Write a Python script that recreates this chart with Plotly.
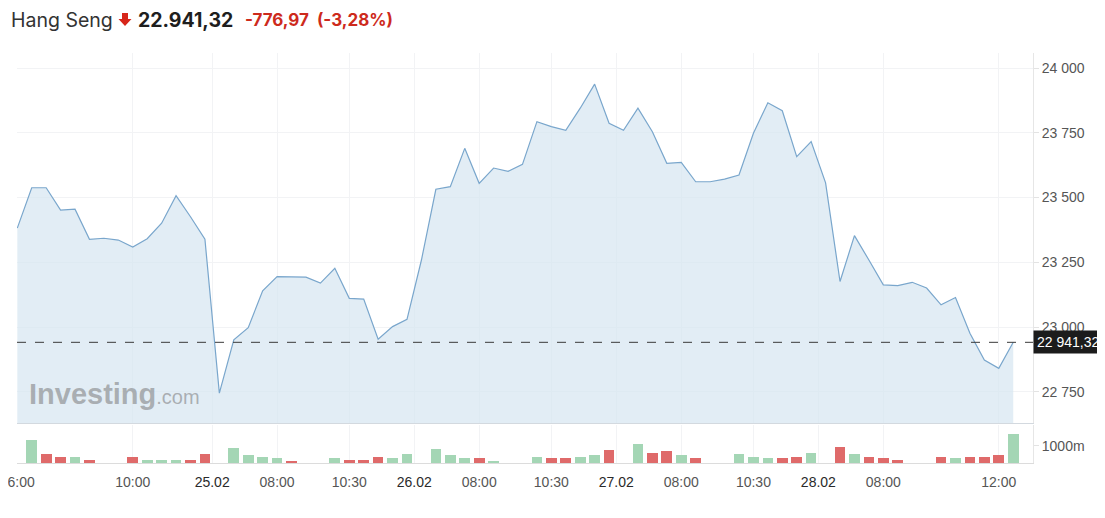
import plotly.graph_objects as go

# ---- data ----
price = [23382, 23538, 23538, 23452, 23455, 23339, 23343, 23336, 23309, 23341,
         23401, 23507, 23426, 23339, 22745, 22951, 22998, 23140, 23195, 23193,
         23193, 23170, 23227, 23111, 23108, 22953, 23002, 23030, 23259, 23532,
         23542, 23690, 23555, 23614, 23601, 23628, 23793, 23774, 23760, 23845,
         23938, 23787, 23760, 23845, 23754, 23632, 23636, 23561, 23561, 23571,
         23587, 23748, 23866, 23835, 23658, 23716, 23557, 23176, 23353, 23259,
         23163, 23160, 23173, 23151, 23086, 23114, 22976, 22873, 22841, 22941.32]

volume = [None, 1382, 535, 370, 370, 206, None, None, 370, 206,
          206, 206, 206, 535, None, 905, 453, 370, 288, 147,
          None, None, 288, 206, 206, 370, 288, 535, None, 823,
          453, 288, 288, 147, None, None, 370, 294, 294, 382,
          465, 782, None, 1100, 617, 700, 465, 294, None, None,
          529, 382, 294, 294, 382, 617, None, 935, 529, 382,
          294, 212, None, None, 382, 294, 382, 382, 465, 1735]

tick_pos = [0, 8, 13.5, 18, 23, 27.5, 32, 37, 41.5, 46, 51, 55.5, 60, 68]
tick_text = ["06:00", "10:00", "25.02", "08:00", "10:30", "26.02", "08:00",
             "10:30", "27.02", "08:00", "10:30", "28.02", "08:00", "12:00"]
date_labels = {"25.02", "26.02", "27.02", "28.02"}

last_price = 22941.32
last_label = "22 941,32"
y_ticks = [22750, 23000, 23250, 23500, 23750, 24000]
vol_ticks = [1000]
vol_tick_text = ["1000m"]

# ---- derived ----
x = list(range(len(price)))
bar_colors = []
for i in range(len(price)):
    up = i > 0 and price[i] > price[i - 1]
    bar_colors.append("#a4d6b5" if up else "#df6a6a")

ticktext_fmt = [
    (f"<span style='color:#2a2a2a'>{t}</span>" if t in date_labels else t)
    for t in tick_text
]

# page offset (body margin) and plot area in page pixels
OFF = 8
W, H = 1105 - OFF, 518 - OFF
PL, PR, PT, PB = 17, 1033, 53, 463          # plot area, page coords
L, R, T, B = PL - OFF, PR - OFF, PT - OFF, PB - OFF


def px(v):
    return (v - PL) / (PR - PL)


def py(v):
    return (PB - v) / (PB - PT)


fig = go.Figure()

fig.add_trace(go.Scatter(
    x=x, y=price, mode="lines",
    line=dict(color="#79a6cc", width=1.2),
    fill="tozeroy", fillcolor="rgba(214,229,241,0.7)",
    xaxis="x", yaxis="y", hoverinfo="skip", showlegend=False))

fig.add_trace(go.Bar(
    x=x, y=volume, marker=dict(color=bar_colors, line=dict(width=0)),
    width=0.74, xaxis="x2", yaxis="y2", hoverinfo="skip", showlegend=False))

font_axis = dict(family="Liberation Sans, Arial, sans-serif", size=14, color="#555")

fig.update_layout(
    width=W, height=H,
    margin=dict(l=L, r=W - R, t=T, b=H - B, pad=0),
    paper_bgcolor="white", plot_bgcolor="white",
    separators=", ",
    template="none",
    bargap=0,
    xaxis=dict(domain=[0, 1], range=[-0.02, 70.37], anchor="y",
               tickvals=tick_pos, showticklabels=False, ticks="",
               showgrid=True, gridcolor="#f2f3f5", gridwidth=1,
               showline=True, linecolor="#d3d9df", linewidth=1,
               zeroline=False, automargin=False),
    yaxis=dict(domain=[0.0976, 1], range=[22630, 24058], side="right",
               anchor="x", tickmode="array", tickvals=y_ticks,
               exponentformat="none", separatethousands=True,
               ticks="outside", ticklen=5,
               tickcolor="#e3e3e3", tickfont=font_axis,
               showgrid=True, gridcolor="#f2f3f5", gridwidth=1,
               showline=True, linecolor="#e6e6e6", linewidth=1,
               zeroline=False, automargin=False),
    xaxis2=dict(domain=[0, 1], range=[-0.02, 70.37], anchor="y2",
                tickmode="array", tickvals=tick_pos, ticktext=ticktext_fmt,
                ticks="", tickfont=font_axis, ticklabeloverflow="allow",
                ticklabelstandoff=6,
                showgrid=True, gridcolor="#f2f3f5", gridwidth=1,
                showline=True, linecolor="#dcdcdc", linewidth=1,
                zeroline=False, automargin=False),
    yaxis2=dict(domain=[0, 0.093], range=[0, 2235], side="right",
                anchor="x2", tickmode="array", tickvals=vol_ticks,
                ticktext=vol_tick_text,
                ticks="outside", ticklen=5, tickcolor="#e3e3e3",
                tickfont=font_axis, showgrid=False,
                showline=True, linecolor="#e6e6e6", linewidth=1,
                zeroline=False, automargin=False),
)

# last price dashed line
fig.add_shape(type="line", xref="paper", yref="y", x0=0, x1=1,
              y0=last_price, y1=last_price,
              line=dict(color="#3a3a3a", width=1, dash="dash"))

# last price label box
fig.add_annotation(xref="paper", yref="y", x=1, y=last_price,
                   xanchor="left", yanchor="middle", showarrow=False,
                   text=last_label, bgcolor="#1c1c1c", borderpad=3,
                   font=dict(family="Liberation Sans, Arial, sans-serif",
                             size=14, color="white"))

# watermark
fig.add_annotation(xref="paper", yref="paper", x=px(27), y=py(394),
                   xanchor="left", yanchor="middle", showarrow=False,
                   text="<b>Investing</b><span style='font-size:20px'>.com</span>",
                   font=dict(family="Liberation Sans, Arial, sans-serif",
                             size=29, color="rgba(150,153,156,0.75)"))

# title pieces
title_font = "Inter, Roboto, Liberation Sans, sans-serif"
fig.add_annotation(xref="paper", yref="paper", x=px(9), y=py(20),
                   xanchor="left", yanchor="middle", showarrow=False,
                   text="Hang Seng",
                   font=dict(family=title_font, size=19.5, color="#333"))
fig.add_shape(type="path", xref="paper", yref="paper",
              path=(f"M {px(122)},{py(13)} L {px(128)},{py(13)} L {px(128)},{py(19)} "
                    f"L {px(131.5)},{py(19)} L {px(125)},{py(26)} L {px(118.5)},{py(19)} "
                    f"L {px(122)},{py(19)} Z"),
              fillcolor="#d7261b", line=dict(width=0))
fig.add_annotation(xref="paper", yref="paper", x=px(136), y=py(20),
                   xanchor="left", yanchor="middle", showarrow=False,
                   text="<b>22.941,32</b>",
                   font=dict(family=title_font, size=19.5, color="#1e1e1e"))
fig.add_annotation(xref="paper", yref="paper", x=px(243), y=py(20),
                   xanchor="left", yanchor="middle", showarrow=False,
                   text="<b>-776,97  (-3,28%)</b>",
                   font=dict(family=title_font, size=17, color="#cd2a1c"))

fig.write_html("out.html")
